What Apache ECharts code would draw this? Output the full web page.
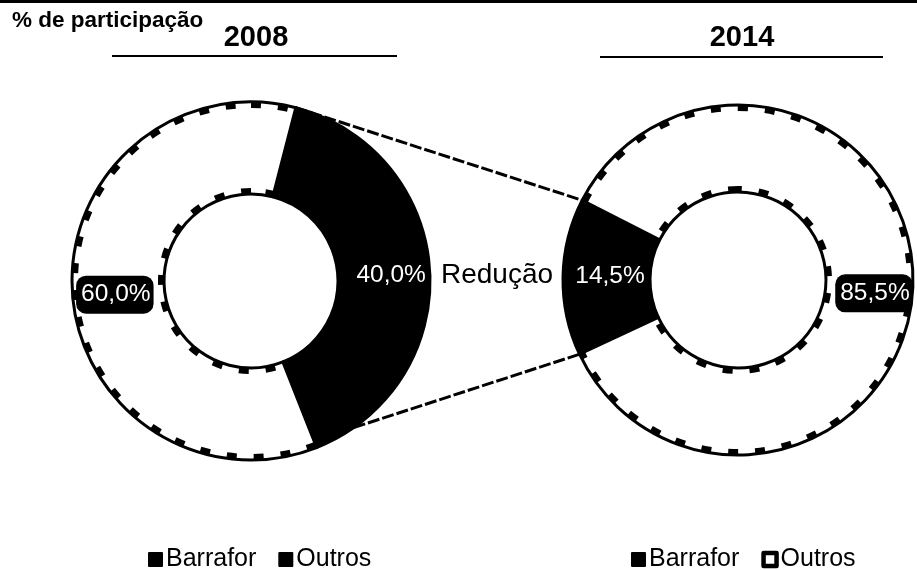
<!DOCTYPE html>
<html><head><meta charset="utf-8">
<script src="https://cdn.jsdelivr.net/npm/echarts@6/dist/echarts.min.js"></script>
<style>html,body{margin:0;padding:0;background:#fff}#c{width:917px;height:570px}</style>
</head><body><div id="c"></div>
<script>
const categories = ['Barrafor', 'Outros'];
const years = ['2008', '2014'];
const values2008 = [40.0, 60.0];
const values2014 = [14.5, 85.5];
const axisTitle = '% de participação';
const middleLabel = 'Redução';

const FONT = 'Liberation Sans, Arial, sans-serif';
const L = {cx: 251, cy: 281, r0: 87, r1: 179, mid: 3.5};
const R = {cx: 738, cy: 280, r0: 88, r1: 175, mid: 179};
function fmt(v){ return v.toFixed(1).replace('.', ',') + '%'; }
function span(vals){ return vals[0] / (vals[0] + vals[1]) * 360; }
const spanL = span(values2008), spanR = span(values2014);
const startL = L.mid + spanL / 2;          // clockwise
const startR = R.mid - spanR / 2;          // counter-clockwise
function pt(c, r, deg){ const a = deg * Math.PI / 180; return [c.cx + r * Math.cos(a), c.cy - r * Math.sin(a)]; }

const lblInside = {show: true, position: 'inside', color: '#fff', fontSize: 24.5, fontFamily: FONT, formatter: p => fmt(p.value)};
const lblBoxed = Object.assign({}, lblInside, {backgroundColor: '#000', borderRadius: 10, padding: [8, 3, 5, 5]});
const noLbl = {show: false};
const clear = {color: 'transparent', borderWidth: 0};

function pieData(vals){
  return [
    {name: categories[0], value: vals[0], itemStyle: {color: '#000'}, label: noLbl},
    {name: categories[1], value: vals[1], itemStyle: {color: '#fff'}, label: noLbl}
  ];
}
function labelOnlyData(vals, lab0, lab1){
  return [
    {name: categories[0], value: vals[0], itemStyle: clear, label: lab0},
    {name: categories[1], value: vals[1], itemStyle: clear, label: lab1}
  ];
}

const topL = pt(L, L.r1, startL), topR = pt(R, R.r1, startR);
const botL = pt(L, L.r1, -55), botR = pt(R, R.r1, startR + spanR);

const legendText = {fontFamily: FONT, fontSize: 25, color: '#000', padding: [0, 0, 0, -1]};
const base = {labelLine: {show: false}, emphasis: {disabled: true}};
const ring = Object.assign({}, base, {itemStyle: {borderColor: '#000', borderWidth: 3}});
const lblSeries = Object.assign({}, base, {silent: true, z: 3});
const texture = Object.assign({}, base, {silent: true, z: 2.5,
  data: [{name: '', value: 1, label: noLbl, itemStyle: {color: 'transparent', borderColor: '#000', borderWidth: 6, borderType: [10, 17]}}]});

const chart = echarts.init(document.getElementById('c'));
chart.setOption({
  backgroundColor: '#fff',
  animation: false,
  legend: [
    {left: 143, top: 542, itemWidth: 13, itemHeight: 13, itemGap: 22, icon: 'rect',
     textStyle: legendText,
     data: [{name: categories[0], itemStyle: {color: '#000'}}, {name: categories[1], itemStyle: {color: '#000'}}]},
    {left: 626, top: 542, itemWidth: 13, itemHeight: 13, itemGap: 22, icon: 'rect',
     textStyle: legendText,
     data: [{name: categories[0], itemStyle: {color: '#000'}}, {name: categories[1], itemStyle: {color: '#fff', borderColor: '#000', borderWidth: 4.5}}]}
  ],
  series: [
    Object.assign({type: 'pie', center: [L.cx, L.cy], radius: [L.r0, L.r1], startAngle: startL, clockwise: true,
      data: pieData(values2008)}, ring),
    Object.assign({type: 'pie', center: [R.cx, R.cy], radius: [R.r0, R.r1], startAngle: startR, clockwise: false,
      data: pieData(values2014)}, ring),
    Object.assign({type: 'pie', center: [L.cx, L.cy], radius: [L.r0 + 3, L.r1 - 3], startAngle: 90}, texture),
    Object.assign({type: 'pie', center: [R.cx, R.cy], radius: [R.r0 + 3, R.r1 - 3], startAngle: 90}, texture),
    Object.assign({type: 'pie', center: [L.cx + 2, L.cy + 4], radius: [91, 180], startAngle: 4 + spanL / 2, clockwise: true,
      data: labelOnlyData(values2008, lblInside, lblBoxed)}, lblSeries),
    Object.assign({type: 'pie', center: [R.cx, R.cy - 2], radius: [R.r0, 162], startAngle: startR, clockwise: false,
      data: labelOnlyData(values2014, lblInside, noLbl)}, lblSeries),
    Object.assign({type: 'pie', center: [R.cx, R.cy + 11], radius: [95, 171], startAngle: startR, clockwise: false,
      data: labelOnlyData(values2014, noLbl, lblBoxed)}, lblSeries)
  ],
  graphic: [
    {type: 'rect', shape: {x: 0, y: 0, width: 917, height: 3}, style: {fill: '#000'}},
    {type: 'text', x: 12, y: 21, style: {text: axisTitle, font: 'bold 22.5px ' + FONT, fill: '#000', textAlign: 'left', textVerticalAlign: 'middle'}},
    {type: 'text', x: 256, y: 38, style: {text: years[0], font: 'bold 29px ' + FONT, fill: '#000', textAlign: 'center', textVerticalAlign: 'middle'}},
    {type: 'text', x: 742, y: 38, style: {text: years[1], font: 'bold 29px ' + FONT, fill: '#000', textAlign: 'center', textVerticalAlign: 'middle'}},
    {type: 'text', x: 497, y: 275, style: {text: middleLabel, font: '28px ' + FONT, fill: '#000', textAlign: 'center', textVerticalAlign: 'middle'}},
    {type: 'line', shape: {x1: 112, y1: 56, x2: 397, y2: 56}, style: {stroke: '#000', lineWidth: 2}},
    {type: 'line', shape: {x1: 600, y1: 57, x2: 883, y2: 57}, style: {stroke: '#000', lineWidth: 2}},
    {type: 'line', shape: {x1: topL[0], y1: topL[1], x2: topR[0], y2: topR[1]}, style: {stroke: '#000', lineWidth: 3, lineDash: [12, 3]}},
    {type: 'line', shape: {x1: botL[0], y1: botL[1], x2: botR[0], y2: botR[1]}, style: {stroke: '#000', lineWidth: 3, lineDash: [12, 3]}}
  ]
});
</script></body></html>
